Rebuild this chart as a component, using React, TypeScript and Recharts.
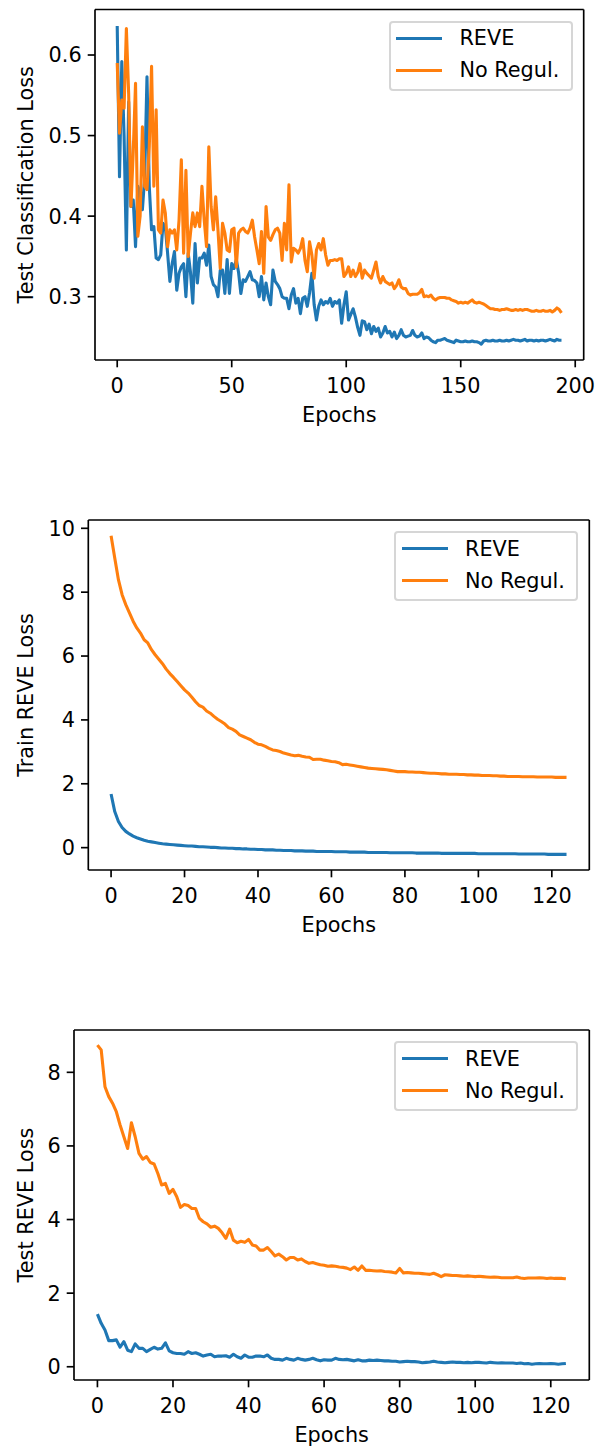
import React from "react";
import { LineChart, Line, XAxis, YAxis, ReferenceLine, Legend } from "recharts";

// epochs 0..194, test classification loss
const testClsReve = [
  0.636, 0.449, 0.592, 0.5, 0.358, 0.542, 0.412, 0.42, 0.362, 0.437,
  0.428, 0.408, 0.449, 0.573, 0.437, 0.383, 0.387, 0.348, 0.346, 0.352,
  0.391, 0.387, 0.354, 0.319, 0.341, 0.356, 0.308, 0.329, 0.337, 0.341,
  0.3, 0.354, 0.33, 0.292, 0.366, 0.317, 0.348, 0.348, 0.354, 0.339,
  0.364, 0.325, 0.315, 0.312, 0.3, 0.333, 0.333, 0.304, 0.346, 0.304,
  0.341, 0.335, 0.346, 0.33, 0.304, 0.321, 0.319, 0.325, 0.331, 0.321,
  0.32, 0.317, 0.3, 0.325, 0.296, 0.317, 0.3, 0.29, 0.333, 0.319,
  0.315, 0.31, 0.3, 0.298, 0.298, 0.285, 0.302, 0.31, 0.292, 0.298,
  0.279, 0.298, 0.3, 0.288, 0.305, 0.329, 0.29, 0.271, 0.288, 0.296,
  0.29, 0.294, 0.292, 0.298, 0.288, 0.294, 0.292, 0.296, 0.267, 0.29,
  0.306, 0.271, 0.278, 0.285, 0.275, 0.262, 0.252, 0.27, 0.269, 0.259,
  0.266, 0.254, 0.263, 0.257, 0.261, 0.25, 0.255, 0.263, 0.255, 0.257,
  0.25, 0.256, 0.248, 0.252, 0.259, 0.252, 0.25, 0.251, 0.252, 0.258,
  0.252, 0.25, 0.251, 0.255, 0.248, 0.25, 0.249, 0.246, 0.244, 0.243,
  0.246, 0.246, 0.247, 0.248, 0.246, 0.245, 0.244, 0.243, 0.246, 0.245,
  0.244, 0.244, 0.245, 0.244, 0.244, 0.245, 0.244, 0.244, 0.243, 0.241,
  0.245, 0.246, 0.245, 0.245, 0.246, 0.245, 0.245, 0.246, 0.245, 0.245,
  0.246, 0.245, 0.246, 0.247, 0.246, 0.246, 0.245, 0.246, 0.247, 0.245,
  0.246, 0.246, 0.245, 0.246, 0.245, 0.246, 0.246, 0.245, 0.246, 0.247,
  0.246, 0.245, 0.247, 0.246, 0.246,
];
const testClsNoReg = [
  0.59, 0.503, 0.544, 0.534, 0.633, 0.552, 0.412, 0.48, 0.565, 0.375,
  0.4, 0.511, 0.437, 0.433, 0.486, 0.586, 0.437, 0.532, 0.383, 0.379,
  0.42, 0.404, 0.362, 0.383, 0.379, 0.383, 0.358, 0.395, 0.47, 0.354,
  0.457, 0.35, 0.379, 0.404, 0.387, 0.404, 0.387, 0.437, 0.395, 0.362,
  0.486, 0.412, 0.383, 0.424, 0.383, 0.335, 0.391, 0.379, 0.358, 0.356,
  0.383, 0.385, 0.337, 0.379, 0.383, 0.385, 0.381, 0.379, 0.385, 0.395,
  0.374, 0.358, 0.341, 0.381, 0.329, 0.412, 0.374, 0.37, 0.377, 0.383,
  0.385, 0.379, 0.345, 0.391, 0.358, 0.439, 0.343, 0.36, 0.358, 0.354,
  0.36, 0.372, 0.345, 0.331, 0.368, 0.352, 0.323, 0.358, 0.366, 0.358,
  0.372, 0.352, 0.339, 0.345, 0.345, 0.346, 0.345, 0.347, 0.347, 0.325,
  0.329, 0.337, 0.325, 0.333, 0.325, 0.33, 0.341, 0.323, 0.333, 0.329,
  0.326, 0.323, 0.333, 0.343, 0.325, 0.317, 0.325, 0.319, 0.317, 0.315,
  0.317, 0.31, 0.314, 0.321, 0.312, 0.31, 0.31, 0.304, 0.302, 0.303,
  0.303, 0.303, 0.305, 0.309, 0.3, 0.301, 0.3, 0.302, 0.298, 0.296,
  0.298, 0.299, 0.299, 0.299, 0.298, 0.298, 0.296, 0.295, 0.294, 0.292,
  0.293, 0.292, 0.293, 0.292, 0.294, 0.296, 0.293, 0.292, 0.293, 0.292,
  0.291, 0.289, 0.287, 0.285, 0.285, 0.284, 0.284, 0.283, 0.284, 0.284,
  0.285, 0.284, 0.283, 0.283, 0.284, 0.283, 0.284, 0.283, 0.284, 0.284,
  0.283, 0.282, 0.282, 0.283, 0.282, 0.282, 0.283, 0.282, 0.282, 0.283,
  0.281, 0.283, 0.286, 0.284, 0.28,
];

// epochs 0..124, train REVE loss
const trainReveReve = [
  1.68, 1.13, 0.82, 0.63, 0.51, 0.43, 0.36, 0.31, 0.27, 0.23,
  0.2, 0.18, 0.16, 0.14, 0.12, 0.11, 0.1, 0.09, 0.08, 0.07,
  0.06, 0.05, 0.05, 0.04, 0.03, 0.03, 0.02, 0.01, 0.01, 0.0,
  -0.01, -0.01, -0.02, -0.02, -0.03, -0.03, -0.04, -0.04, -0.05, -0.05,
  -0.06, -0.06, -0.07, -0.07, -0.07, -0.08, -0.08, -0.09, -0.09, -0.09,
  -0.1, -0.1, -0.1, -0.11, -0.11, -0.11, -0.12, -0.12, -0.12, -0.12,
  -0.12, -0.13, -0.13, -0.13, -0.13, -0.14, -0.14, -0.14, -0.14, -0.14,
  -0.15, -0.15, -0.15, -0.15, -0.15, -0.15, -0.16, -0.16, -0.16, -0.16,
  -0.16, -0.16, -0.16, -0.17, -0.17, -0.17, -0.17, -0.17, -0.17, -0.17,
  -0.18, -0.18, -0.18, -0.18, -0.18, -0.18, -0.18, -0.18, -0.18, -0.18,
  -0.19, -0.19, -0.19, -0.19, -0.19, -0.19, -0.19, -0.19, -0.19, -0.19,
  -0.19, -0.2, -0.2, -0.2, -0.2, -0.2, -0.2, -0.2, -0.2, -0.21,
  -0.21, -0.21, -0.21, -0.21, -0.21,
];
const trainReveNoReg = [
  9.77, 9.07, 8.39, 7.92, 7.61, 7.35, 7.09, 6.88, 6.72, 6.51,
  6.41, 6.2, 6.04, 5.9, 5.76, 5.59, 5.45, 5.33, 5.2, 5.07,
  4.94, 4.84, 4.71, 4.57, 4.45, 4.4, 4.28, 4.21, 4.11, 4.02,
  3.95, 3.87, 3.76, 3.71, 3.64, 3.53, 3.48, 3.43, 3.38, 3.3,
  3.24, 3.22, 3.17, 3.11, 3.06, 3.04, 3.01, 2.96, 2.93, 2.9,
  2.88, 2.89, 2.86, 2.84, 2.83, 2.76, 2.77, 2.77, 2.74, 2.72,
  2.7, 2.69, 2.66, 2.6, 2.61, 2.59, 2.57, 2.55, 2.53, 2.51,
  2.49, 2.48, 2.47, 2.46, 2.45, 2.44, 2.42, 2.4, 2.38, 2.38,
  2.38, 2.37, 2.37, 2.36, 2.36, 2.35, 2.34, 2.33, 2.33, 2.32,
  2.31, 2.31, 2.3, 2.3, 2.3, 2.29, 2.29, 2.28, 2.28, 2.27,
  2.27, 2.26, 2.26, 2.26, 2.25, 2.25, 2.24, 2.24, 2.23, 2.23,
  2.23, 2.23, 2.22, 2.22, 2.22, 2.22, 2.21, 2.21, 2.21, 2.21,
  2.21, 2.2, 2.2, 2.2, 2.2,
];

// epochs 0..124, test REVE loss
const testReveReve = [
  1.43, 1.18, 1.0, 0.71, 0.71, 0.73, 0.53, 0.68, 0.45, 0.41,
  0.62, 0.5, 0.5, 0.41, 0.47, 0.53, 0.48, 0.5, 0.65, 0.43,
  0.38, 0.36, 0.36, 0.34, 0.41, 0.36, 0.38, 0.34, 0.29, 0.32,
  0.34, 0.27, 0.29, 0.29, 0.3, 0.26, 0.34, 0.27, 0.23, 0.32,
  0.26, 0.26, 0.29, 0.29, 0.27, 0.32, 0.23, 0.2, 0.2, 0.18,
  0.23, 0.2, 0.18, 0.23, 0.2, 0.18, 0.2, 0.23, 0.19, 0.16,
  0.19, 0.18, 0.18, 0.23, 0.2, 0.19, 0.2, 0.18, 0.16, 0.19,
  0.16, 0.16, 0.18, 0.17, 0.18, 0.17, 0.16, 0.16, 0.15, 0.15,
  0.13, 0.14, 0.15, 0.14, 0.14, 0.13, 0.11, 0.12, 0.13, 0.15,
  0.13, 0.12, 0.11, 0.12, 0.13, 0.12, 0.12, 0.11, 0.12, 0.11,
  0.12, 0.12, 0.11, 0.1, 0.12, 0.11, 0.1, 0.11, 0.1, 0.1,
  0.1, 0.09, 0.1, 0.08, 0.09, 0.07, 0.08, 0.09, 0.08, 0.08,
  0.09, 0.08, 0.07, 0.08, 0.09,
];
const testReveNoReg = [
  8.74, 8.61, 7.61, 7.34, 7.16, 6.93, 6.57, 6.25, 5.93, 6.63,
  6.25, 5.8, 5.64, 5.71, 5.55, 5.51, 5.25, 4.94, 4.98, 4.71,
  4.82, 4.62, 4.33, 4.41, 4.38, 4.3, 4.3, 4.03, 3.94, 3.88,
  3.79, 3.82, 3.76, 3.64, 3.49, 3.74, 3.44, 3.37, 3.41, 3.38,
  3.46, 3.31, 3.28, 3.17, 3.17, 3.24, 3.13, 3.01, 3.06, 2.99,
  2.9, 2.97, 2.97, 2.9, 2.93, 2.86, 2.81, 2.83, 2.8, 2.77,
  2.76, 2.73, 2.74, 2.73, 2.71, 2.7, 2.68, 2.64, 2.71, 2.62,
  2.74, 2.62, 2.62, 2.61, 2.6, 2.61, 2.59, 2.58, 2.57, 2.55,
  2.67, 2.55, 2.56, 2.55, 2.54, 2.54, 2.53, 2.52, 2.51, 2.54,
  2.5, 2.45, 2.5, 2.49, 2.48, 2.48, 2.47, 2.46, 2.47, 2.46,
  2.45, 2.46, 2.45, 2.44, 2.43, 2.44, 2.43, 2.42, 2.42, 2.42,
  2.42, 2.44, 2.41, 2.4, 2.41, 2.41, 2.41, 2.42, 2.41, 2.4,
  2.41, 2.4, 2.4, 2.4, 2.39,
];

const seriesNames = ["REVE", "No Regul."];
const ticksEpochs200 = [0, 50, 100, 150, 200];
const ticksEpochs120 = [0, 20, 40, 60, 80, 100, 120];
const ticksClsLoss = [0.3, 0.4, 0.5, 0.6];
const ticksTrainReve = [0, 2, 4, 6, 8, 10];
const ticksTestReve = [0, 2, 4, 6, 8];

const BLUE = "#1f77b4";
const ORANGE = "#ff7f0e";
const FONT = "'DejaVu Sans', sans-serif";
const FS = 20.8;
const SPINE = 1.67;

function toRows(reve: number[], noReg: number[]) {
  return reve.map((v, i) => ({ epoch: i, reve: v, noReg: noReg[i] }));
}

function XTitle({ viewBox, text }: any) {
  return (
    <text x={viewBox.x + viewBox.width / 2} y={viewBox.y + 62} textAnchor="middle" fontSize={FS} fontFamily={FONT} fill="#000">
      {text}
    </text>
  );
}

function YTitle({ viewBox, text }: any) {
  const cx = viewBox.x + 32.5;
  const cy = viewBox.y + viewBox.height / 2;
  return (
    <text x={cx} y={cy} transform={`rotate(-90, ${cx}, ${cy})`} textAnchor="middle" fontSize={FS} fontFamily={FONT} fill="#000">
      {text}
    </text>
  );
}

function LegendBox({ payload }: any) {
  // keep plotting order (recharts sorts legend items by name)
  const items = (payload ?? [])
    .filter((p: any) => seriesNames.includes(p.value))
    .sort((a: any, b: any) => seriesNames.indexOf(a.value) - seriesNames.indexOf(b.value));
  return (
    <div
      style={{
        position: "relative",
        width: 184,
        height: 70,
        boxSizing: "border-box",
        border: "2px solid rgba(204,204,204,0.8)",
        borderRadius: 4,
        background: "rgba(255,255,255,0.8)",
        fontFamily: FONT,
        fontSize: FS,
        color: "#000",
      }}
    >
      {items.map((p: any, i: number) => (
        <div key={p.value} style={{ position: "absolute", left: 0, top: 17.5 + i * 32 - 2 - 13, height: 26, display: "flex", alignItems: "center", lineHeight: "26px", whiteSpace: "nowrap" }}>
          <span style={{ display: "inline-block", width: 46, height: 3, marginLeft: 5.3, background: p.color }} />
          <span style={{ marginLeft: 17.4 }}>{p.value}</span>
        </div>
      ))}
    </div>
  );
}

type Box = { left: number; top: number; right: number; bottom: number };

function LossPanel({
  top, plot, data, xDomain, xTicks, yDomain, yTicks, yFormat, yLabel,
}: {
  top: number; plot: Box; data: any[]; xDomain: [number, number]; xTicks: number[];
  yDomain: [number, number]; yTicks: number[]; yFormat: (v: number) => string; yLabel: string;
}) {
  const H = 440;
  const axisStyle = { stroke: "#000", strokeWidth: SPINE };
  const tickStyle = { fill: "#000", fontSize: FS, fontFamily: FONT };
  return (
    <div style={{ position: "absolute", left: 0, top, width: 598, height: H }}>
      <LineChart width={598} height={H} data={data} margin={{ top: plot.top, right: 598 - plot.right, left: 0, bottom: H - plot.bottom - 70 }}>
        <XAxis
          dataKey="epoch" type="number" domain={xDomain} ticks={xTicks} interval={0} allowDataOverflow
          height={70} tickSize={7.3} tickMargin={11} axisLine={axisStyle} tickLine={axisStyle} tick={tickStyle}
          label={<XTitle text="Epochs" />}
        />
        <YAxis
          type="number" domain={yDomain} ticks={yTicks} interval={0} allowDataOverflow width={plot.left}
          tickSize={7.3} tickMargin={6} axisLine={axisStyle} tickLine={axisStyle} tick={tickStyle}
          tickFormatter={yFormat} label={<YTitle text={yLabel} />}
        />
        <ReferenceLine y={yDomain[1]} stroke="#000" strokeWidth={SPINE} ifOverflow="visible" />
        <ReferenceLine x={xDomain[1]} stroke="#000" strokeWidth={SPINE} ifOverflow="visible" />
        <Line type="linear" dataKey="reve" name={seriesNames[0]} stroke={BLUE} strokeWidth={3.1} strokeLinejoin="round" dot={false} isAnimationActive={false} />
        <Line type="linear" dataKey="noReg" name={seriesNames[1]} stroke={ORANGE} strokeWidth={3.1} strokeLinejoin="round" dot={false} isAnimationActive={false} />
        <Legend
          layout="vertical" align="center" verticalAlign="middle" content={<LegendBox />}
          wrapperStyle={{ position: "absolute", left: plot.right - 11 - 184, top: plot.top + 11, width: 184, height: 70 }}
        />
      </LineChart>
    </div>
  );
}

export default function App() {
  return (
    <div style={{ position: "absolute", left: 0, top: 0, width: 598, height: 1450, background: "#fff" }}>
      <LossPanel
        top={0}
        plot={{ left: 95, top: 9.5, right: 583.7, bottom: 360 }}
        data={toRows(testClsReve, testClsNoReg)}
        xDomain={[-9.7, 203.7]} xTicks={ticksEpochs200}
        yDomain={[0.2214, 0.6565]} yTicks={ticksClsLoss}
        yFormat={(v) => v.toFixed(1)} yLabel="Test Classification Loss"
      />
      <LossPanel
        top={500}
        plot={{ left: 88.3, top: 20, right: 589.3, bottom: 370 }}
        data={toRows(trainReveReve, trainReveNoReg)}
        xDomain={[-6.2, 130.2]} xTicks={ticksEpochs120}
        yDomain={[-0.7, 10.26]} yTicks={ticksTrainReve}
        yFormat={(v) => String(v)} yLabel="Train REVE Loss"
      />
      <LossPanel
        top={1010}
        plot={{ left: 74, top: 20, right: 589.3, bottom: 370 }}
        data={toRows(testReveReve, testReveNoReg)}
        xDomain={[-6.2, 130.2]} xTicks={ticksEpochs120}
        yDomain={[-0.36, 9.15]} yTicks={ticksTestReve}
        yFormat={(v) => String(v)} yLabel="Test REVE Loss"
      />
    </div>
  );
}
